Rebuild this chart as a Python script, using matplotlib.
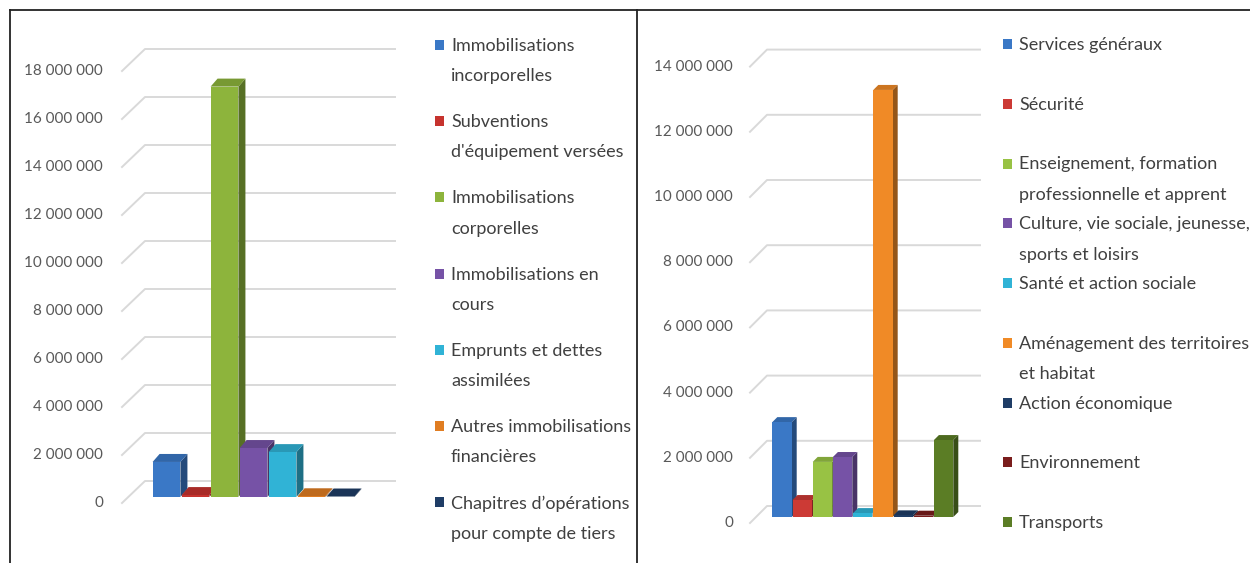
import numpy as np
import matplotlib.pyplot as plt
from matplotlib.patches import Polygon, Rectangle
from matplotlib.lines import Line2D

plt.rcParams['font.family'] = ['Lato', 'DejaVu Sans']

# --- left chart : by nature of spending
left_labels = ["Immobilisations\nincorporelles",
               "Subventions\nd'équipement versées",
               "Immobilisations\ncorporelles",
               "Immobilisations en\ncours",
               "Emprunts et dettes\nassimilées",
               "Autres immobilisations\nfinancières",
               "Chapitres d\u2019opérations\npour compte de tiers"]
left_values = [1460000, 80000, 17100000, 2040000, 1870000, 30000, 20000]
left_colors = ["#3a78c6", "#c6332e", "#8db43c", "#7652a6", "#30b3d6", "#e07d22", "#1f3d66"]
left_ticks = [0, 2e6, 4e6, 6e6, 8e6, 10e6, 12e6, 14e6, 16e6, 18e6]

# --- right chart : by function
right_labels = ["Services généraux",
                "Sécurité",
                "Enseignement, formation\nprofessionnelle et apprent",
                "Culture, vie sociale, jeunesse,\nsports et loisirs",
                "Santé et action sociale",
                "Aménagement des territoires\net habitat",
                "Action économique",
                "Environnement",
                "Transports"]
right_values = [2910000, 520000, 1690000, 1840000, 120000, 13100000, 50000, 40000, 2360000]
right_colors = ["#3a78c6", "#cc3a35", "#98c244", "#7652a6", "#30b3d6", "#f08a26", "#1f3d66",
                "#7a1d1c", "#5b7d25"]
right_ticks = [0, 2e6, 4e6, 6e6, 8e6, 10e6, 12e6, 14e6]

W, H = 1250, 563
fig = plt.figure(figsize=(W / 100, H / 100), dpi=100)


def shade(c, f):
    rgb = np.array(plt.matplotlib.colors.to_rgb(c))
    return tuple(np.clip(rgb * f, 0, 1))


def px(ax, dx, dy):
    # pixel offset -> data offset
    o = ax.transData.transform((0, 0))
    p = ax.transData.inverted().transform(o + np.array([dx, dy]))
    return p[0], p[1]


def draw_chart(rect, values, colors, ymax, ticks, xlim, front, back, depth, gap):
    ax = fig.add_axes(rect)
    ax.set_xlim(*xlim)
    ax.set_ylim(0, ymax)
    ax.axis('off')
    x0, x1 = xlim
    fdx, fdy = px(ax, *front)
    bdx, bdy = px(ax, *back)
    ddx, ddy = px(ax, *depth)
    gx, _ = px(ax, gap, 0)

    for v in ticks:
        ax.plot([x0 + fdx, x0 + bdx, x1 + bdx], [v + fdy, v + bdy, v + bdy],
                color="#d9d9d9", lw=1.4, clip_on=False, zorder=1)
        ax.text(x0 + fdx - gx, v + fdy, f"{v:,.0f}".replace(",", " "),
                ha='right', va='center', fontsize=11, color="#595959")

    w = 0.96
    for i, (v, c) in enumerate(zip(values, colors)):
        z = 3 + i
        l, r = i - w / 2, i + w / 2
        side = Polygon([(r, 0), (r, v), (r + ddx, v + ddy), (r + ddx, ddy)],
                       closed=True, fc=shade(c, 0.62), ec='none', zorder=z, clip_on=False)
        top = Polygon([(l, v), (r, v), (r + ddx, v + ddy), (l + ddx, v + ddy)],
                      closed=True, fc=shade(c, 0.85), ec='none', zorder=z, clip_on=False)
        ax.add_patch(side)
        ax.add_patch(top)
        ax.bar(i, v, width=w, color=c, zorder=z, clip_on=False)
    return ax


def legend(labels, colors, x, y0, step):
    for i, (lab, c) in enumerate(zip(labels, colors)):
        y = y0 + i * step
        fig.add_artist(Rectangle((x / W, 1 - (y + 5) / H), 9 / W, 10 / H,
                                 transform=fig.transFigure, fc=c, ec='none'))
        fig.text((x + 16) / W, 1 - (y - 7) / H, lab, ha='left', va='top',
                 fontsize=13, color="#404040", linespacing=2.1)


# left chart : bar plane, zero at y=497, 24 px per million, pitch 29 px
draw_chart([128 / W, (H - 497) / H, 250 / W, 18.8 * 24 / H],
           left_values, left_colors, 18.8e6, left_ticks,
           ((128 - 166.5) / 29, (378 - 166.5) / 29),
           (-6, -6), (17, 16), (7, 8), 19)
legend(left_labels, left_colors, 435, 45, 76.2)

# right chart : zero at y=517, 32.6 px per million, pitch 20.2 px
draw_chart([756 / W, (H - 517) / H, 213 / W, 14.3 * 32.6 / H],
           right_values, right_colors, 14.3e6, right_ticks,
           ((756 - 782) / 20.2, (969 - 782) / 20.2),
           (-6, -6), (11, 11), (5, 5), 17)
legend(right_labels, right_colors, 1003, 44, 59.75)

# frame lines
for xs, ys in [([10, 10], [10, H]), ([10, W], [10, 10]), ([637, 637], [10, H])]:
    fig.add_artist(Line2D([x / W for x in xs], [1 - y / H for y in ys],
                          transform=fig.transFigure, color="#222222", lw=1.3))

fig.savefig("out.png", dpi=100)
